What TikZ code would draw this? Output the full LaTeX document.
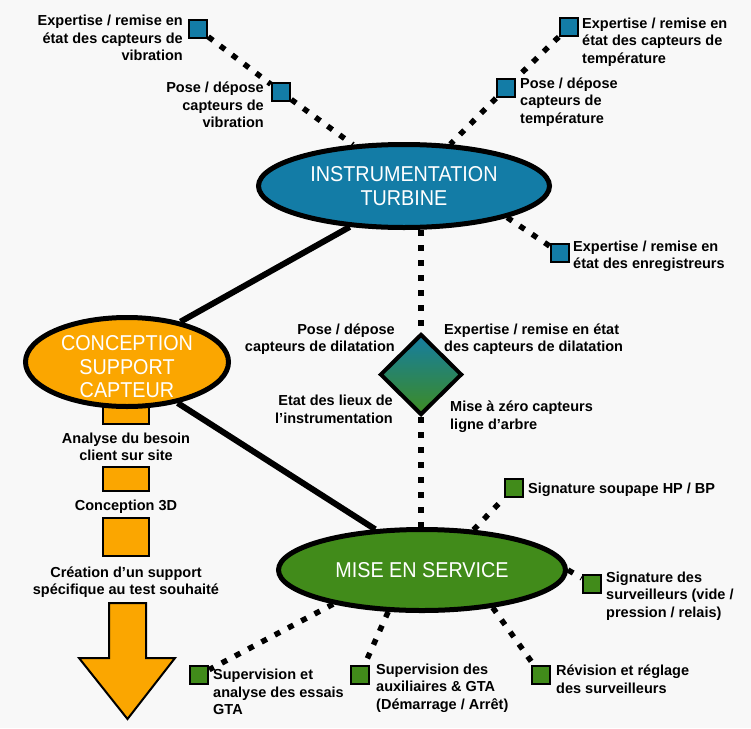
\documentclass[tikz,border=0pt]{standalone}
\usepackage{fontspec}
\setmainfont{Liberation Sans}
\newfontfamily\hubfont[FakeStretch=0.92]{Liberation Sans}
\usetikzlibrary{shapes.geometric}
\definecolor{bgc}{HTML}{F8F8F8}
\definecolor{tblue}{HTML}{137CA6}
\definecolor{torange}{HTML}{FBA600}
\definecolor{tgreen}{HTML}{418B1A}
\definecolor{dtop}{HTML}{157DA2}
\definecolor{dbot}{HTML}{3E8C22}
\pgfdeclarelayer{bglayer}
\pgfdeclarelayer{edgelayer}
\pgfsetlayers{bglayer,edgelayer,main}
\begin{document}
\begin{tikzpicture}[x=1pt,y=-1pt,
  hub/.style={ellipse,draw=black,line width=5pt,inner sep=0pt,text=white,font=\hubfont\fontsize{21.5}{23.5}\selectfont,align=center},
  sq/.style={rectangle,draw=black,line width=2.5pt,minimum size=18pt,inner sep=0pt},
  bsq/.style={sq,fill=tblue},
  gsq/.style={sq,fill=tgreen},
  lbl/.style={inner sep=0pt,font=\bfseries\fontsize{14.5}{17.5}\selectfont},
  dotline/.style={line width=5.5pt,dash pattern=on 6pt off 9pt},
  solidline/.style={line width=6pt},
  obox/.style={rectangle,draw=black,line width=2pt,fill=torange,inner sep=0pt,minimum width=46pt}
]
\useasboundingbox (0,0) rectangle (751,728);
\begin{pgfonlayer}{bglayer}
\fill[bgc] (0,0) rectangle (751,728);
\end{pgfonlayer}

% hubs
\node[hub,fill=tblue,minimum width=291pt,minimum height=83pt] (blue) at (404,186) {INSTRUMENTATION\\TURBINE};
\node[obox,minimum height=24pt] (r1) at (126,412) {};
\node[hub,fill=torange,minimum width=203pt,minimum height=89pt,inner ysep=-7pt] (orange) at (127,362) {\rule{0pt}{25pt}CONCEPTION\\SUPPORT\\CAPTEUR};
\node[hub,fill=tgreen,minimum width=287pt,minimum height=81pt] (green) at (422,570) {MISE EN SERVICE};
\node[diamond,draw=black,line width=4pt,top color=dtop,bottom color=dbot,minimum width=82pt,minimum height=81pt,inner sep=0pt] (dia) at (421,374.5) {};

% orange column
\node[obox,minimum height=24pt] (r2) at (126,479) {};
\node[obox,minimum height=38pt] (r3) at (126,537) {};
\draw[line width=2pt,fill=torange,line join=miter] (109,603) -- (146,603) -- (146,658) -- (175,658) -- (127.5,719) -- (79,658) -- (109,658) -- cycle;

% squares
\node[bsq] (sq1) at (198,29) {};
\node[bsq] (sq2) at (281,92) {};
\node[bsq] (sq3) at (569,27) {};
\node[bsq] (sq4) at (506,88) {};
\node[bsq] (sq5) at (560,253) {};
\node[gsq] (ga) at (514,488) {};
\node[gsq] (gb) at (592,584) {};
\node[gsq] (gc) at (541,675) {};
\node[gsq] (gd) at (360,675) {};
\node[gsq] (ge) at (199,675) {};

% labels
\node[lbl,anchor=east,align=right] (t1) at (183,38) {Expertise / remise en\\état des capteurs de\\vibration};
\node[lbl,anchor=east,align=right] (t2) at (264,105) {Pose / dépose\\capteurs de\\vibration};
\node[lbl,anchor=west,align=left] (t3) at (582,42) {Expertise / remise en\\état des capteurs de\\température};
\node[lbl,anchor=west,align=left] (t4) at (520,102) {Pose / dépose\\capteurs de\\température};
\node[lbl,anchor=west,align=left] (t5) at (573,256.5) {Expertise / remise en\\état des enregistreurs};
\node[lbl,anchor=east,align=right] (d1) at (395,339) {Pose / dépose\\capteurs de dilatation};
\node[lbl,anchor=west,align=left] (d2) at (444,339) {Expertise / remise en état\\des capteurs de dilatation};
\node[lbl,anchor=east,align=right] (d3) at (393,409.5) {Etat des lieux de\\l’instrumentation};
\node[lbl,anchor=west,align=left] (d4) at (450,416.5) {Mise à zéro capteurs\\ligne d’arbre};
\node[lbl,align=center] (o1) at (126,447) {Analyse du besoin\\client sur site};
\node[lbl,align=center] (o2) at (126,507) {Conception 3D};
\node[lbl,align=center] (o3) at (126,582) {Création d’un support\\spécifique au test souhaité};
\node[lbl,anchor=west,align=left] (g1) at (528,490) {Signature soupape HP / BP};
\node[lbl,anchor=west,align=left] (g2) at (606,596) {Signature des\\surveilleurs (vide /\\pression / relais)};
\node[lbl,anchor=west,align=left] (g3) at (556,679) {Révision et réglage\\des surveilleurs};
\node[lbl,anchor=west,align=left] (g4) at (376,688) {Supervision des\\auxiliaires \& GTA\\(Démarrage / Arrêt)};
\node[lbl,anchor=west,align=left] (g5) at (213,692) {Supervision et\\analyse des essais\\GTA};

% connectors
\begin{pgfonlayer}{edgelayer}
\draw[dotline] (sq1) -- (sq2) -- (blue.141);
\draw[dotline] (sq3) -- (sq4) -- (blue.42);
\draw[dotline] (blue.-17) -- (sq5);
\draw[dotline] (blue.south -| dia.north) -- (dia.north);
\draw[dotline] (dia.south) -- (dia.south |- green.north);
\draw[solidline] (blue.217) -- (orange.37);
\draw[solidline] (orange.321) -- (green.139);
\draw[dotline] (green.38) -- (ga);
\draw[dotline] (green.east) -- (gb);
\draw[dotline] (green.-28) -- (gc);
\draw[dotline] (green.231) -- (gd);
\draw[dotline] (green.201) -- (ge);
\end{pgfonlayer}
\end{tikzpicture}
\end{document}
